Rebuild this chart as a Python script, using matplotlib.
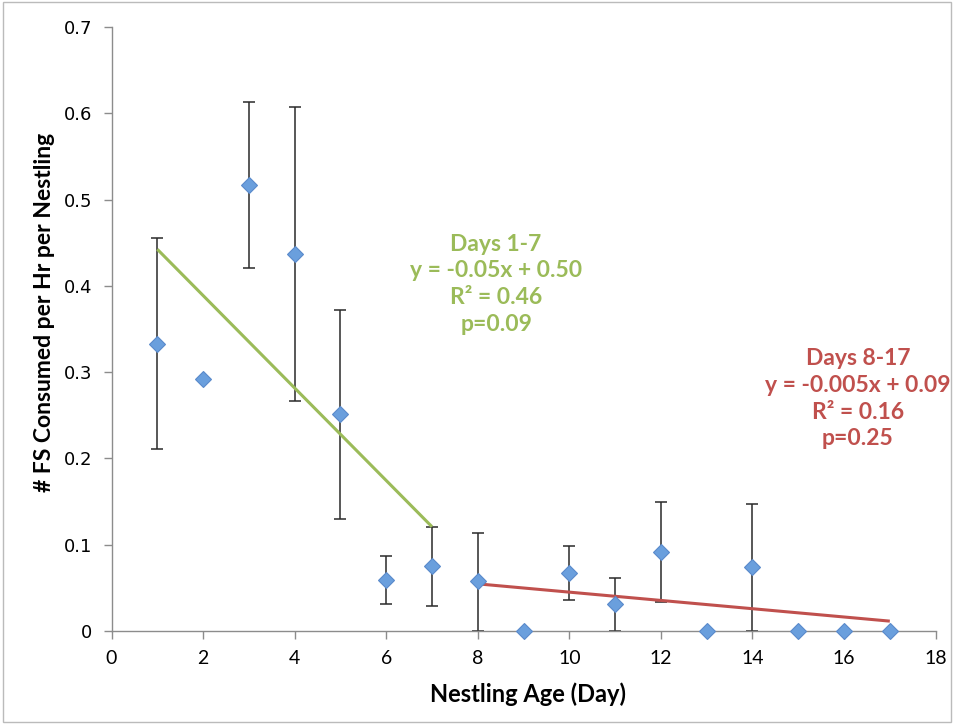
import matplotlib
matplotlib.use("Agg")
import matplotlib.pyplot as plt
from matplotlib.patches import Rectangle
import numpy as np

# Data
days = [1, 2, 3, 4, 5, 6, 7, 8, 9, 10, 11, 12, 13, 14, 15, 16, 17]
fs_rate = [0.333, 0.292, 0.517, 0.437, 0.251, 0.059, 0.075, 0.058, 0.0,
           0.067, 0.031, 0.091, 0.0, 0.074, 0.0, 0.0, 0.0]
err_up = [0.122, 0.0, 0.096, 0.170, 0.121, 0.028, 0.046, 0.056, 0.0,
          0.031, 0.030, 0.058, 0.0, 0.073, 0.0, 0.0, 0.0]
err_low = [0.122, 0.0, 0.096, 0.170, 0.121, 0.028, 0.046, 0.058, 0.0,
           0.031, 0.031, 0.058, 0.0, 0.074, 0.0, 0.0, 0.0]

early_range = [1, 7]
early_slope, early_intercept = -0.0536, 0.496
late_range = [8, 17]
late_slope, late_intercept = -0.0048, 0.093

early_text = "Days 1-7\ny = -0.05x + 0.50\nR² = 0.46\np=0.09"
late_text = "Days 8-17\ny = -0.005x + 0.09\nR² = 0.16\np=0.25"

green = "#9BBB59"
red = "#C0504D"
blue = "#6A9FDD"

fig = plt.figure(figsize=(9.54, 7.24), dpi=100)
ax = fig.add_axes([0.1169, 0.1285, 0.9807 - 0.1169, 0.9627 - 0.1285])

# error bars (only where they exist)
d = np.array(days); v = np.array(fs_rate)
eu = np.array(err_up); el = np.array(err_low)
mask = (eu > 0) | (el > 0)
ax.errorbar(d[mask], v[mask], yerr=[el[mask], eu[mask]], fmt='none',
            ecolor='#2A2A2A', elinewidth=1.1, capsize=4, capthick=1.1, zorder=2,
            clip_on=False)

# trend lines
xe = np.array(early_range, dtype=float)
ax.plot(xe, early_slope * xe + early_intercept, color=green, lw=2.2, zorder=3,
        solid_capstyle='butt')
xl = np.array(late_range, dtype=float)
ax.plot(xl, late_slope * xl + late_intercept, color=red, lw=2.2, zorder=3,
        solid_capstyle='butt')

# markers
ax.plot(days, fs_rate, linestyle='none', marker='D', markersize=8.5,
        markerfacecolor=blue, markeredgecolor='#5A8ACB', markeredgewidth=0.8,
        zorder=4, clip_on=False)

ax.set_xlim(0, 18)
ax.set_ylim(0, 0.7)
ax.set_xticks(range(0, 19, 2))
ax.set_yticks([0, 0.1, 0.2, 0.3, 0.4, 0.5, 0.6, 0.7])
ax.set_yticklabels(["0", "0.1", "0.2", "0.3", "0.4", "0.5", "0.6", "0.7"],
                   fontsize=13, family="DejaVu Sans")
ax.set_xticklabels([str(t) for t in range(0, 19, 2)], fontsize=14, family="Lato")

for s in ["top", "right"]:
    ax.spines[s].set_visible(False)
for s in ["left", "bottom"]:
    ax.spines[s].set_color("#8C8C8C")
    ax.spines[s].set_linewidth(1.0)
ax.tick_params(axis='both', direction='out', length=6, color="#8C8C8C", width=1.0)
ax.tick_params(axis='x', pad=8)
ax.tick_params(axis='y', pad=8)

ax.set_xlabel("Nestling Age (Day)", fontsize=17, fontweight='bold', family="Lato")
ax.xaxis.set_label_coords(0.506, -0.085)
ax.set_ylabel("# FS Consumed per Hr per Nestling", fontsize=16.5, fontweight='bold',
              family="Lato")
ax.yaxis.set_label_coords(-0.069, 0.528)

ax.text(8.4, 0.402, early_text, color=green, fontsize=16.5, fontweight='bold',
        family="Lato", ha='center', va='center', linespacing=1.33)
ax.text(16.3, 0.269, late_text, color=red, fontsize=16.5, fontweight='bold',
        family="Lato", ha='center', va='center', linespacing=1.33)

# outer frame
fig.patches.append(Rectangle((0.003, 0.003), 0.994, 0.994, transform=fig.transFigure,
                             fill=False, edgecolor="#BBBBBB", linewidth=1.0))

fig.savefig("out.png", dpi=100)
